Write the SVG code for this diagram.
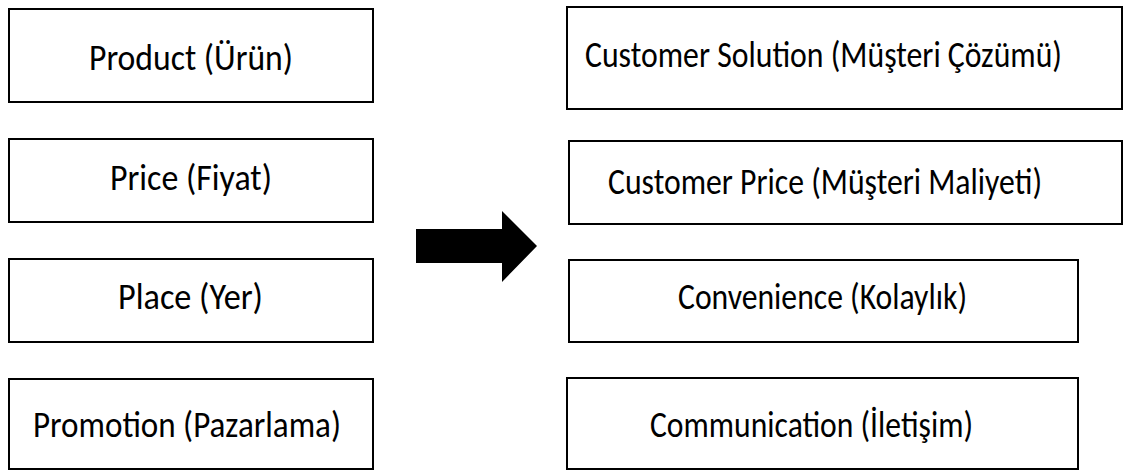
<svg xmlns="http://www.w3.org/2000/svg" width="1128" height="471" viewBox="0 0 1128 471">
  <style>
    .box { fill: #ffffff; stroke: #000000; stroke-width: 2; }
    .lbl { font-family: Carlito, Lato, "Liberation Sans", sans-serif; font-size: 36px; fill: #000000; text-anchor: start; }
  </style>
  <rect width="1128" height="471" fill="#ffffff"/>

  <!-- 4P column -->
  <g id="product">
    <rect class="box" x="9" y="9" width="364" height="93"/>
    <text class="lbl" x="89" y="70" textLength="204" lengthAdjust="spacingAndGlyphs">Product (Ürün)</text>
  </g>
  <g id="price">
    <rect class="box" x="9" y="139" width="364" height="83"/>
    <text class="lbl" x="110" y="190" textLength="162" lengthAdjust="spacingAndGlyphs">Price (Fiyat)</text>
  </g>
  <g id="place">
    <rect class="box" x="9" y="259" width="364" height="83"/>
    <text class="lbl" x="118" y="309" textLength="145" lengthAdjust="spacingAndGlyphs">Place (Yer)</text>
  </g>
  <g id="promotion">
    <rect class="box" x="9" y="379" width="364" height="90"/>
    <text class="lbl" x="33" y="437" textLength="308" lengthAdjust="spacingAndGlyphs">Promotion (Pazarlama)</text>
  </g>

  <!-- 4C column -->
  <g id="customer-solution">
    <rect class="box" x="567" y="7" width="555" height="102"/>
    <text class="lbl" x="585" y="67" textLength="477" lengthAdjust="spacingAndGlyphs">Customer Solution (Müşteri Çözümü)</text>
  </g>
  <g id="customer-price">
    <rect class="box" x="569" y="141" width="553" height="83"/>
    <text class="lbl" x="608" y="194" textLength="434" lengthAdjust="spacingAndGlyphs">Customer Price (Müşteri Maliyeti)</text>
  </g>
  <g id="convenience">
    <rect class="box" x="569" y="260" width="509" height="82"/>
    <text class="lbl" x="678" y="309" textLength="289" lengthAdjust="spacingAndGlyphs">Convenience (Kolaylık)</text>
  </g>
  <g id="communication">
    <rect class="box" x="567" y="378" width="511" height="91"/>
    <text class="lbl" x="650" y="437" textLength="323" lengthAdjust="spacingAndGlyphs">Communication (İletişim)</text>
  </g>

  <!-- block arrow between the columns -->
  <g id="connectors">
    <polygon points="416,229 502,229 502,211 537,246 502,282 502,263 416,263" fill="#000000"/>
  </g>
</svg>
